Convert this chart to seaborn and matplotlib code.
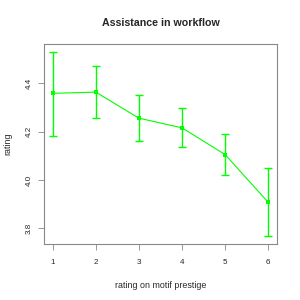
import matplotlib
matplotlib.use("Agg")
import matplotlib.pyplot as plt
import seaborn as sns
import pandas as pd
import numpy as np

prestige = [1, 2, 3, 4, 5, 6]
rating = [4.359, 4.364, 4.256, 4.216, 4.105, 3.907]
upper = [4.532, 4.474, 4.353, 4.297, 4.191, 4.050]
lower = [4.184, 4.256, 4.161, 4.138, 4.020, 3.766]
yticks = [3.8, 4.0, 4.2, 4.4]

sns.set_theme(style="white")
plt.rcParams['font.family'] = ['Liberation Sans', 'DejaVu Sans']

df = pd.DataFrame({"prestige": prestige, "rating": rating})
fig = plt.figure(figsize=(3, 3), dpi=100)
ax = fig.add_axes([0.147, 0.187, 0.776, 0.666])

green = "#00FF00"
sns.lineplot(data=df, x="prestige", y="rating", ax=ax, color=green, lw=0.8,
             marker="s", markersize=3, markeredgewidth=0, errorbar=None)
yerr = np.array([np.array(rating) - np.array(lower), np.array(upper) - np.array(rating)])
ax.errorbar(prestige, rating, yerr=yerr, fmt="none", ecolor=green, elinewidth=1.0,
            capsize=2.6, capthick=1.0)

ax.set_xlim(0.8, 6.2)
ax.set_ylim(3.735, 4.563)
ax.set_xticks(prestige)
ax.set_yticks(yticks)
ax.set_xticklabels([str(p) for p in prestige], fontsize=5.8)
ax.set_yticklabels([f"{t:.1f}" for t in yticks], fontsize=5.8, rotation=90, va="center")
ax.tick_params(axis="both", which="both", length=4, width=0.6, color="#888888",
               left=True, bottom=True)
ax.tick_params(axis="x", pad=7)
ax.tick_params(axis="y", pad=4)
for s in ax.spines.values():
    s.set_color("#888888")
    s.set_linewidth(0.8)
ax.set_xlabel("rating on motif prestige", fontsize=6.4, labelpad=11)
ax.set_ylabel("rating", fontsize=6.4, labelpad=10)
ax.set_title("Assistance in workflow", fontsize=7.7, fontweight="bold", pad=13)
ax.grid(False)
fig.savefig("out.png", dpi=100, facecolor="white")
